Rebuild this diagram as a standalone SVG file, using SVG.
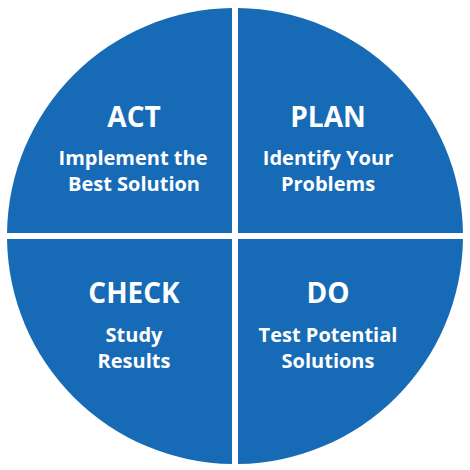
<svg xmlns="http://www.w3.org/2000/svg" width="470" height="470" viewBox="0 0 470 470">
<style>
.q{fill:#176bb6}
.t{fill:#ffffff;font-family:"Open Sans","Liberation Sans",sans-serif;font-weight:700;text-anchor:middle}
.h{font-size:28px}
.s{font-size:20px}
</style>
<rect width="470" height="470" fill="#ffffff"/>
<g id="connectors"></g>
<g id="act">
<path class="q" d="M232,233 L232,8.02 A228,228 0 0 0 7.02,233 Z"/>
<text class="t h" x="134" y="127">ACT</text>
<text class="t s" x="133" y="165">Implement the</text>
<text class="t s" x="134" y="191">Best Solution</text>
</g>
<g id="plan">
<path class="q" d="M238,233 L238,8.02 A228,228 0 0 1 462.98,233 Z"/>
<text class="t h" x="328" y="127">PLAN</text>
<text class="t s" x="328" y="165">Identify Your</text>
<text class="t s" x="328" y="191">Problems</text>
</g>
<g id="check">
<path class="q" d="M232,239 L232,463.98 A228,228 0 0 1 7.02,239 Z"/>
<text class="t h" x="134" y="303">CHECK</text>
<text class="t s" x="134" y="342">Study</text>
<text class="t s" x="134" y="368">Results</text>
</g>
<g id="do">
<path class="q" d="M238,239 L462.98,239 A228,228 0 0 1 238,463.98 Z"/>
<text class="t h" x="328" y="303">DO</text>
<text class="t s" x="328" y="342">Test Potential</text>
<text class="t s" x="328" y="368">Solutions</text>
</g>
</svg>
